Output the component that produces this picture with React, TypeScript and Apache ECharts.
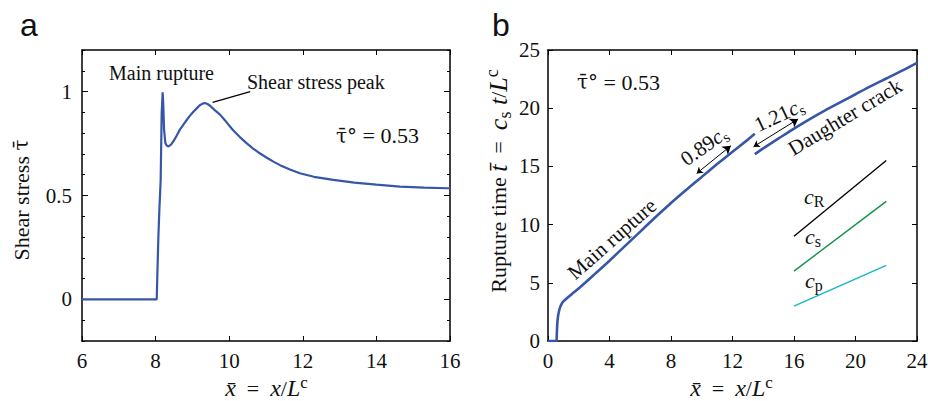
import React, { useEffect, useRef } from 'react';
import * as echarts from 'echarts';

// ---- Data: panel a (shear stress profile) ----
const shearX = [6, 8.03, 8.075, 8.1, 8.138, 8.165, 8.192, 8.21, 8.23, 8.265, 8.3, 8.35, 8.42, 8.48, 8.57, 8.66, 8.75, 8.84, 8.93, 9.02, 9.11, 9.2, 9.28, 9.34, 9.41, 9.48, 9.6, 9.75, 9.93, 10.1, 10.29, 10.47, 10.65, 10.83, 11.01, 11.2, 11.38, 11.65, 11.92, 12.3, 12.83, 13.4, 14.0, 14.64, 15.3, 15.95, 16];
const shearY = [0, 0, 0.3, 0.42, 0.575, 0.897, 0.997, 0.93, 0.817, 0.752, 0.74, 0.736, 0.745, 0.76, 0.787, 0.817, 0.84, 0.862, 0.883, 0.902, 0.918, 0.934, 0.942, 0.945, 0.94, 0.932, 0.912, 0.889, 0.852, 0.815, 0.781, 0.752, 0.726, 0.703, 0.683, 0.663, 0.646, 0.625, 0.607, 0.59, 0.575, 0.562, 0.552, 0.543, 0.538, 0.535, 0.535];

// leader line for "Shear stress peak"
const leaderX = [9.55, 10.57];
const leaderY = [0.948, 1.0];

// ---- Data: panel b (rupture time) ----
const mainX = [0, 0.55, 0.57, 0.6, 0.65, 0.75, 0.87, 1.0, 1.3, 1.7, 2.2, 3, 4, 5, 6, 7, 8, 9, 10, 11, 12, 13, 13.45];
const mainT = [0, 0, 0.5, 1.4, 2.1, 2.75, 3.15, 3.4, 3.75, 4.2, 4.75, 5.7, 6.9, 8.15, 9.4, 10.65, 11.85, 13.0, 14.1, 15.2, 16.25, 17.3, 17.8];

const daughterX = [13.45, 14, 15, 16, 17, 18, 19, 20, 21, 22, 23, 24];
const daughterT = [16.05, 16.55, 17.4, 18.25, 19.05, 19.8, 20.5, 21.2, 21.9, 22.55, 23.2, 23.9];

// reference wave-speed slopes
const refX = [16, 22];
const cRT = [9, 15.5];
const cST = [6, 12];
const cPT = [3, 6.5];

// double-headed arrows
const arrow089 = [[9.67, 14.4], [11.89, 16.77]];
const arrow121 = [[13.37, 16.69], [16.27, 19.07]];

// tick labels
const leftYLabels = [0, 0.5, 1];

const SERIF = 'Liberation Serif, Times New Roman, serif';
const SANS = 'Liberation Sans, Arial, sans-serif';
const BAR = 'DejaVu Serif, serif';
const BLUE = '#3656a8';
const INK = '#111';

const zip = (xs: number[], ys: number[]) => xs.map((x, i) => [x, ys[i]]);

const rich = (size: number) => {
  const s = Math.round(size * 0.72);
  const m = size + 2;
  const ms = Math.round(m * 0.7);
  const M = size + 4;
  const Ms = Math.round(M * 0.7);
  return {
    r: { fontFamily: SERIF, fontSize: size, lineHeight: size + 5, color: INK },
    i: { fontFamily: SERIF, fontStyle: 'italic', fontSize: size, lineHeight: size + 5, color: INK },
    tau: { fontFamily: BAR, fontSize: Math.round(size * 0.9), lineHeight: size + 5, color: INK },
    sub: { fontFamily: SERIF, fontSize: s, lineHeight: s, verticalAlign: 'bottom', color: INK },
    sup: { fontFamily: SERIF, fontSize: s, lineHeight: s, verticalAlign: 'top', color: INK },
    m: { fontFamily: SERIF, fontStyle: 'italic', fontSize: m, lineHeight: m + 5, color: INK },
    msub: { fontFamily: SERIF, fontSize: ms, lineHeight: ms, verticalAlign: 'bottom', color: INK },
    msup: { fontFamily: SERIF, fontSize: ms, lineHeight: ms, verticalAlign: 'top', color: INK },
    M: { fontFamily: SERIF, fontStyle: 'italic', fontSize: M, lineHeight: M + 5, color: INK },
    Msub: { fontFamily: SERIF, fontSize: Ms, lineHeight: Ms, verticalAlign: 'bottom', color: INK },
    Msup: { fontFamily: SERIF, fontSize: Ms, lineHeight: Ms, verticalAlign: 'top', color: INK },
  };
};

const txt = (text: string, x: number, y: number, size: number, opts: any = {}) => ({
  type: 'text',
  x,
  y,
  rotation: opts.rotation || 0,
  silent: true,
  style: {
    text,
    fill: INK,
    fontFamily: opts.family || SERIF,
    fontSize: size,
    align: opts.align || 'left',
    verticalAlign: 'middle',
    rich: rich(size),
  },
});

const deg = (d: number) => (d * Math.PI) / 180;

export default function App() {
  const ref = useRef<HTMLDivElement>(null);
  useEffect(() => {
    document.body.style.margin = '0';
    const chart = echarts.init(ref.current!, undefined, { renderer: 'svg' });
    const line = { show: true, onZero: false, lineStyle: { color: '#000', width: 1.5 } };
    const labelStyle = { color: INK, fontFamily: SERIF, fontSize: 21 };
    const tick = (len: number, extra: any = {}) => ({ inside: true, length: len, lineStyle: { color: '#000' }, ...extra });
    const option: any = {
      animation: false,
      backgroundColor: '#fff',
      textStyle: { fontFamily: SERIF },
      grid: [
        { left: 82, right: 478, top: 50, bottom: 60, containLabel: false, outerBoundsMode: 'none' },
        { left: 548, right: 11, top: 50, bottom: 60, containLabel: false, outerBoundsMode: 'none' },
      ],
      xAxis: [
        { type: 'value', gridIndex: 0, position: 'bottom', min: 6, max: 16, interval: 2, axisLine: line, splitLine: { show: false },
          axisTick: tick(5), axisLabel: { ...labelStyle, margin: 9 } },
        { type: 'value', gridIndex: 0, position: 'top', min: 6, max: 16, interval: 2, axisLine: line, splitLine: { show: false },
          axisTick: tick(5), axisLabel: { show: false } },
        { type: 'value', gridIndex: 1, position: 'bottom', min: 0, max: 24, interval: 4, axisLine: line, splitLine: { show: false },
          axisTick: tick(5), axisLabel: { ...labelStyle, margin: 9 } },
        { type: 'value', gridIndex: 1, position: 'top', min: 0, max: 24, interval: 4, axisLine: line, splitLine: { show: false },
          axisTick: tick(5), axisLabel: { show: false } },
      ],
      yAxis: [
        { type: 'value', gridIndex: 0, position: 'left', min: -0.2, max: 1.2, interval: 0.1, axisLine: line, splitLine: { show: false },
          axisTick: tick(3),
          axisLabel: { ...labelStyle, margin: 10, customValues: leftYLabels, formatter: (v: number) => String(Math.round(v * 10) / 10) } },
        { type: 'value', gridIndex: 0, position: 'right', min: -0.2, max: 1.2, interval: 0.1, axisLine: line, splitLine: { show: false },
          axisTick: tick(3), axisLabel: { show: false } },
        { type: 'value', gridIndex: 0, position: 'left', min: -0.2, max: 1.2, interval: 0.1, axisLine: { show: false }, splitLine: { show: false },
          axisTick: tick(6, { customValues: leftYLabels }), axisLabel: { show: false } },
        { type: 'value', gridIndex: 0, position: 'right', min: -0.2, max: 1.2, interval: 0.1, axisLine: { show: false }, splitLine: { show: false },
          axisTick: tick(6, { customValues: leftYLabels }), axisLabel: { show: false } },
        { type: 'value', gridIndex: 1, position: 'left', min: 0, max: 25, interval: 5, axisLine: line, splitLine: { show: false },
          axisTick: tick(5), axisLabel: { ...labelStyle, margin: 8 } },
        { type: 'value', gridIndex: 1, position: 'right', min: 0, max: 25, interval: 5, axisLine: line, splitLine: { show: false },
          axisTick: tick(5), axisLabel: { show: false } },
      ],
      series: [
        { type: 'line', xAxisIndex: 0, yAxisIndex: 0, data: zip(shearX, shearY), showSymbol: false, symbol: 'none',
          lineStyle: { color: BLUE, width: 2.2 } },
        { type: 'line', xAxisIndex: 0, yAxisIndex: 0, data: zip(leaderX, leaderY), showSymbol: false, symbol: 'none',
          lineStyle: { color: '#000', width: 1.3 } },
        { type: 'line', xAxisIndex: 2, yAxisIndex: 4, data: zip(mainX, mainT), showSymbol: false, symbol: 'none', smooth: 0.2,
          lineStyle: { color: BLUE, width: 2.6 } },
        { type: 'line', xAxisIndex: 2, yAxisIndex: 4, data: zip(daughterX, daughterT), showSymbol: false, symbol: 'none', smooth: 0.2,
          lineStyle: { color: BLUE, width: 2.6 } },
        { type: 'line', xAxisIndex: 2, yAxisIndex: 4, data: zip(refX, cRT), showSymbol: false, symbol: 'none',
          lineStyle: { color: '#000', width: 1.4 } },
        { type: 'line', xAxisIndex: 2, yAxisIndex: 4, data: zip(refX, cST), showSymbol: false, symbol: 'none',
          lineStyle: { color: '#11924a', width: 1.4 } },
        { type: 'line', xAxisIndex: 2, yAxisIndex: 4, data: zip(refX, cPT), showSymbol: false, symbol: 'none',
          lineStyle: { color: '#17b6c4', width: 1.4 } },
        { type: 'lines', coordinateSystem: 'cartesian2d', xAxisIndex: 2, yAxisIndex: 4,
          symbol: ['arrow', 'arrow'], symbolSize: [6, 8],
          lineStyle: { color: '#000', width: 1, opacity: 1 },
          data: [{ coords: arrow089 }, { coords: arrow121 }] },
      ],
      graphic: [
        // panel letters
        txt('a', 20, 25, 32, { family: SANS }),
        txt('b', 492, 25, 32, { family: SANS }),
        // panel a texts
        txt('{r|Main rupture}', 109, 72.5, 20),
        txt('{r|Shear stress peak}', 247, 81.5, 20),
        txt('{tau|τ̄°}{r| = 0.53}', 336, 135.5, 22),
        txt('{r|Shear stress }{tau|τ̄}', 21, 200, 22, { align: 'center', rotation: deg(90) }),
        txt('{m|x̄}{r|  =  }{m|x}{r|/}{m|L}{msup|c}', 266.5, 388, 22, { align: 'center' }),
        // panel b texts
        txt('{tau|τ̄°}{r| = 0.53}', 577, 82, 22),
        txt('{r|Rupture time }{M|t̄}{r|  =  }{M|c}{Msub|s}{M| t}{r|/}{M|L}{Msup|c}', 498, 181, 22, { align: 'center', rotation: deg(90) }),
        txt('{m|x̄}{r|  =  }{m|x}{r|/}{m|L}{msup|c}', 731.5, 388, 22, { align: 'center' }),
        txt('{r|Main rupture}', 612, 239, 21, { align: 'center', rotation: deg(41.5) }),
        txt('{r|0.89}{i|c}{sub|s}', 704, 146, 21, { align: 'center', rotation: deg(35) }),
        txt('{r|1.21}{i|c}{sub|s}', 779, 115, 21, { align: 'center', rotation: deg(25) }),
        txt('{r|Daughter crack}', 845, 117, 21, { align: 'center', rotation: deg(31) }),
        txt('{i|c}{sub|R}', 804, 196, 22),
        txt('{i|c}{sub|s}', 805, 236, 22),
        txt('{i|c}{sub|p}', 805, 280, 22),
      ],
    };
    chart.setOption(option);
    return () => chart.dispose();
  }, []);
  return <div ref={ref} style={{ position: 'fixed', left: 0, top: 0, width: 928, height: 401, background: '#fff' }} />;
}
